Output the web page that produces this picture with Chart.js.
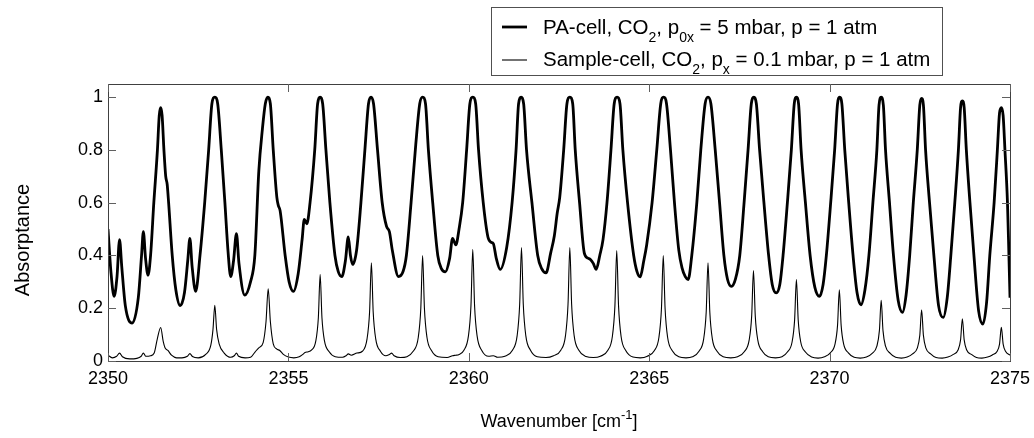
<!DOCTYPE html>
<html>
<head>
<meta charset="utf-8">
<script src="https://cdn.jsdelivr.net/npm/chart.js@4.4.1/dist/chart.umd.min.js"></script>
<style>
  html, body { margin: 0; padding: 0; background: #fff; }
  canvas { display: block; }
</style>
</head>
<body>
<canvas id="chart" width="1034" height="438"></canvas>
<script>
// =============================================================
// DATA
// =============================================================
const xTicks = [2350, 2355, 2360, 2365, 2370, 2375];
const yTicks = [0, 0.2, 0.4, 0.6, 0.8, 1];

const legendPA     = [["PA-cell, CO", ""], ["2", "sub"], [", p", ""], ["0x", "sub"], [" = 5 mbar, p = 1 atm", ""]];
const legendSample = [["Sample-cell, CO", ""], ["2", "sub"], [", p", ""], ["x", "sub"], [" = 0.1 mbar, p = 1 atm", ""]];

// PA-cell, thick line: [wavenumber, absorptance]
const paCell = [
    [2350.00,0.50],[2350.08,0.34],[2350.17,0.245],[2350.25,0.32],[2350.32,0.46],[2350.38,0.36],
    [2350.48,0.21],[2350.67,0.144],[2350.84,0.24],[2350.93,0.40],[2350.98,0.49],[2351.04,0.39],
    [2351.11,0.325],[2351.18,0.40],[2351.27,0.60],[2351.37,0.80],[2351.42,0.93],[2351.46,0.96],
    [2351.50,0.93],[2351.55,0.80],[2351.60,0.70],[2351.64,0.67],[2351.68,0.60],[2351.78,0.40],
    [2351.88,0.27],[2352.00,0.21],[2352.12,0.26],[2352.21,0.38],[2352.27,0.465],[2352.33,0.36],
    [2352.43,0.264],[2352.55,0.40],[2352.68,0.60],[2352.79,0.80],[2352.88,0.975],[2352.96,1.00],
    [2353.04,0.975],[2353.14,0.80],[2353.24,0.60],[2353.33,0.41],[2353.40,0.32],[2353.48,0.38],
    [2353.56,0.483],[2353.63,0.37],[2353.79,0.25],[2353.95,0.30],[2354.07,0.40],[2354.18,0.72],
    [2354.28,0.88],[2354.36,0.975],[2354.43,1.00],[2354.50,0.975],[2354.58,0.80],[2354.68,0.62],
    [2354.72,0.59],[2354.77,0.57],[2354.91,0.40],[2355.02,0.30],[2355.14,0.264],[2355.27,0.33],
    [2355.38,0.46],[2355.44,0.537],[2355.51,0.52],[2355.60,0.60],[2355.73,0.80],[2355.81,0.975],
    [2355.88,1.00],[2355.95,0.975],[2356.04,0.80],[2356.15,0.60],[2356.29,0.40],[2356.38,0.34],
    [2356.48,0.32],[2356.58,0.38],[2356.66,0.47],[2356.72,0.40],[2356.78,0.366],[2356.89,0.42],
    [2357.01,0.60],[2357.12,0.80],[2357.22,0.975],[2357.29,1.00],[2357.36,0.975],[2357.47,0.80],
    [2357.60,0.60],[2357.72,0.51],[2357.80,0.49],[2357.88,0.42],[2358.05,0.32],[2358.18,0.34],
    [2358.27,0.40],[2358.40,0.60],[2358.53,0.82],[2358.64,0.975],[2358.72,1.00],[2358.80,0.975],
    [2358.88,0.80],[2359.00,0.60],[2359.14,0.40],[2359.24,0.35],[2359.35,0.338],[2359.47,0.39],
    [2359.55,0.465],[2359.64,0.44],[2359.73,0.50],[2359.83,0.60],[2359.94,0.80],[2360.03,0.975],
    [2360.11,1.00],[2360.19,0.975],[2360.27,0.80],[2360.40,0.60],[2360.53,0.47],[2360.62,0.45],
    [2360.68,0.445],[2360.76,0.39],[2360.87,0.347],[2361.05,0.43],[2361.20,0.60],[2361.31,0.80],
    [2361.38,0.975],[2361.45,1.00],[2361.52,0.975],[2361.60,0.80],[2361.75,0.60],[2361.91,0.40],
    [2362.02,0.35],[2362.14,0.334],[2362.27,0.41],[2362.37,0.474],[2362.45,0.56],[2362.52,0.62],
    [2362.63,0.80],[2362.72,0.975],[2362.80,1.00],[2362.88,0.975],[2362.95,0.80],[2363.07,0.60],
    [2363.20,0.41],[2363.30,0.39],[2363.37,0.385],[2363.45,0.37],[2363.53,0.347],[2363.63,0.40],
    [2363.72,0.46],[2363.83,0.60],[2363.94,0.80],[2364.03,0.975],[2364.11,1.00],[2364.19,0.975],
    [2364.27,0.80],[2364.40,0.60],[2364.57,0.40],[2364.66,0.34],[2364.75,0.319],[2364.85,0.38],
    [2364.93,0.44],[2365.08,0.60],[2365.21,0.80],[2365.32,0.975],[2365.40,1.00],[2365.48,0.975],
    [2365.59,0.80],[2365.70,0.60],[2365.82,0.42],[2365.91,0.353],[2366.00,0.32],[2366.08,0.309],
    [2366.18,0.40],[2366.32,0.60],[2366.43,0.80],[2366.55,0.975],[2366.63,1.00],[2366.71,0.975],
    [2366.83,0.80],[2366.95,0.60],[2367.07,0.40],[2367.17,0.31],[2367.28,0.283],[2367.39,0.31],
    [2367.51,0.40],[2367.63,0.60],[2367.74,0.80],[2367.83,0.975],[2367.90,1.00],[2367.97,0.975],
    [2368.06,0.80],[2368.18,0.60],[2368.31,0.40],[2368.41,0.29],[2368.52,0.258],[2368.62,0.29],
    [2368.71,0.40],[2368.83,0.60],[2368.94,0.80],[2369.02,0.975],[2369.08,1.00],[2369.14,0.975],
    [2369.21,0.80],[2369.33,0.60],[2369.46,0.40],[2369.59,0.28],[2369.72,0.245],[2369.82,0.29],
    [2369.91,0.40],[2370.03,0.60],[2370.14,0.80],[2370.22,0.975],[2370.28,1.00],[2370.34,0.975],
    [2370.42,0.80],[2370.53,0.60],[2370.65,0.40],[2370.76,0.26],[2370.87,0.213],[2370.98,0.27],
    [2371.09,0.40],[2371.20,0.60],[2371.31,0.80],[2371.37,0.97],[2371.43,1.00],[2371.49,0.97],
    [2371.55,0.80],[2371.66,0.60],[2371.77,0.40],[2371.90,0.23],[2372.02,0.184],[2372.12,0.25],
    [2372.22,0.40],[2372.32,0.60],[2372.43,0.80],[2372.50,0.97],[2372.55,0.995],[2372.60,0.97],
    [2372.66,0.80],[2372.77,0.60],[2372.89,0.40],[2373.02,0.21],[2373.15,0.165],[2373.26,0.24],
    [2373.36,0.40],[2373.47,0.60],[2373.57,0.80],[2373.63,0.96],[2373.68,0.986],[2373.73,0.96],
    [2373.79,0.80],[2373.89,0.60],[2374.00,0.40],[2374.13,0.19],[2374.25,0.14],[2374.35,0.22],
    [2374.44,0.40],[2374.56,0.60],[2374.65,0.80],[2374.71,0.94],[2374.76,0.96],[2374.81,0.93],
    [2374.86,0.80],[2374.93,0.60],[2374.97,0.40],[2375.00,0.24]
];

// Sample-cell, thin line: [wavenumber, absorptance]
const sampleCell = [
    [2350.00,0.022],[2350.12,0.012],[2350.24,0.018],[2350.32,0.030],[2350.40,0.016],[2350.60,0.008],
    [2350.80,0.010],[2350.92,0.018],[2350.98,0.030],[2351.05,0.018],[2351.18,0.020],[2351.28,0.030],
    [2351.37,0.086],[2351.46,0.127],[2351.53,0.074],[2351.58,0.050],[2351.66,0.040],[2351.76,0.022],
    [2351.90,0.012],[2352.05,0.012],[2352.20,0.018],[2352.27,0.028],[2352.34,0.017],[2352.50,0.012],
    [2352.70,0.024],[2352.85,0.060],[2352.91,0.120],[2352.96,0.211],[2353.01,0.120],[2353.08,0.065],
    [2353.22,0.030],[2353.40,0.014],[2353.50,0.020],[2353.56,0.030],[2353.62,0.018],[2353.80,0.012],
    [2353.95,0.014],[2354.08,0.035],[2354.18,0.050],[2354.30,0.070],[2354.38,0.150],[2354.44,0.274],
    [2354.50,0.150],[2354.58,0.065],[2354.68,0.045],[2354.76,0.040],[2354.86,0.025],[2355.00,0.015],
    [2355.15,0.012],[2355.30,0.016],[2355.40,0.025],[2355.46,0.032],[2355.55,0.035],[2355.63,0.040],
    [2355.76,0.076],[2355.83,0.164],[2355.88,0.328],[2355.93,0.164],[2356.00,0.076],[2356.13,0.035],
    [2356.30,0.016],[2356.50,0.014],[2356.60,0.020],[2356.66,0.027],[2356.74,0.022],[2356.90,0.030],
    [2357.05,0.037],[2357.18,0.084],[2357.25,0.186],[2357.30,0.372],[2357.35,0.186],[2357.42,0.084],
    [2357.55,0.037],[2357.70,0.020],[2357.80,0.025],[2357.86,0.030],[2357.93,0.020],[2358.10,0.013],
    [2358.47,0.039],[2358.60,0.090],[2358.67,0.200],[2358.72,0.400],[2358.77,0.200],[2358.84,0.090],
    [2358.97,0.039],[2359.15,0.016],[2359.40,0.013],[2359.55,0.020],[2359.64,0.022],[2359.72,0.024],
    [2359.86,0.040],[2359.99,0.095],[2360.06,0.210],[2360.11,0.423],[2360.16,0.210],[2360.23,0.095],
    [2360.36,0.040],[2360.55,0.018],[2360.68,0.020],[2360.80,0.014],[2361.00,0.018],
    [2361.21,0.041],[2361.34,0.096],[2361.41,0.215],[2361.46,0.430],[2361.51,0.215],[2361.58,0.096],
    [2361.71,0.041],[2361.90,0.016],[2362.14,0.013],[2362.35,0.020],
    [2362.55,0.041],[2362.68,0.096],[2362.75,0.215],[2362.80,0.430],[2362.85,0.215],[2362.92,0.096],
    [2363.05,0.041],[2363.25,0.017],[2363.45,0.013],[2363.65,0.018],
    [2363.85,0.040],[2363.98,0.094],[2364.05,0.210],[2364.10,0.419],[2364.15,0.210],[2364.22,0.094],
    [2364.35,0.040],[2364.55,0.015],[2364.75,0.012],[2364.95,0.018],
    [2365.14,0.039],[2365.27,0.090],[2365.34,0.200],[2365.39,0.400],[2365.44,0.200],[2365.51,0.090],
    [2365.64,0.039],[2365.82,0.016],[2366.02,0.012],[2366.20,0.016],
    [2366.38,0.037],[2366.51,0.084],[2366.58,0.186],[2366.63,0.372],[2366.68,0.186],[2366.75,0.084],
    [2366.88,0.037],[2367.05,0.016],[2367.26,0.012],[2367.45,0.016],
    [2367.64,0.036],[2367.77,0.079],[2367.84,0.170],[2367.89,0.343],[2367.94,0.170],[2368.01,0.079],
    [2368.14,0.036],[2368.30,0.016],[2368.50,0.012],[2368.68,0.016],
    [2368.83,0.034],[2368.96,0.072],[2369.03,0.155],[2369.08,0.309],[2369.13,0.155],[2369.20,0.072],
    [2369.33,0.034],[2369.50,0.015],[2369.68,0.011],[2369.86,0.016],
    [2370.02,0.031],[2370.15,0.064],[2370.22,0.135],[2370.27,0.270],[2370.32,0.135],[2370.39,0.064],
    [2370.52,0.031],[2370.68,0.014],[2370.85,0.011],[2371.02,0.015],
    [2371.18,0.029],[2371.31,0.056],[2371.38,0.115],[2371.43,0.230],[2371.48,0.115],[2371.55,0.056],
    [2371.68,0.029],[2371.83,0.014],[2371.99,0.011],[2372.15,0.015],
    [2372.30,0.027],[2372.43,0.049],[2372.50,0.097],[2372.55,0.194],[2372.60,0.097],[2372.67,0.049],
    [2372.80,0.027],[2372.95,0.013],[2373.12,0.011],[2373.28,0.015],
    [2373.43,0.025],[2373.56,0.042],[2373.63,0.080],[2373.68,0.160],[2373.73,0.080],[2373.80,0.042],
    [2373.93,0.025],[2374.07,0.013],[2374.22,0.011],[2374.38,0.015],
    [2374.51,0.023],[2374.64,0.036],[2374.71,0.064],[2374.76,0.128],[2374.81,0.064],[2374.88,0.036],
    [2375.00,0.022]
];

const FONT = '"Liberation Sans", Arial, Helvetica, sans-serif';

// =============================================================
// FRAME, INWARD TICKS, AXIS TITLES, LEGEND
// =============================================================
function drawRich(ctx, parts, x, y, size) {
    let cx = x;
    parts.forEach(([txt, kind]) => {
        const s = kind ? Math.round(size * 0.7) : size;
        ctx.font = s + 'px ' + FONT;
        const dy = kind === 'sub' ? size * 0.4 : (kind === 'sup' ? -size * 0.42 : 0);
        ctx.fillText(txt, cx, y + dy);
        cx += ctx.measureText(txt).width;
    });
    return cx - x;
}

function richWidth(ctx, parts, size) {
    let w = 0;
    parts.forEach(([txt, kind]) => {
        const s = kind ? Math.round(size * 0.7) : size;
        ctx.font = s + 'px ' + FONT;
        w += ctx.measureText(txt).width;
    });
    return w;
}

const decorations = {
    id: 'decorations',
    afterDraw(chart) {
        const { ctx, chartArea: a, scales: { x, y } } = chart;
        ctx.save();

        // box
        ctx.strokeStyle = '#404040';
        ctx.lineWidth = 1;
        ctx.strokeRect(Math.round(a.left) + 0.5, Math.round(a.top) + 0.5,
                       Math.round(a.right - a.left), Math.round(a.bottom - a.top));

        // inward ticks
        ctx.strokeStyle = '#606060';
        ctx.beginPath();
        xTicks.forEach(v => {
            const px = Math.round(x.getPixelForValue(v)) + 0.5;
            ctx.moveTo(px, a.bottom); ctx.lineTo(px, a.bottom - 8);
            ctx.moveTo(px, a.top);    ctx.lineTo(px, a.top + 8);
        });
        yTicks.forEach(v => {
            const py = Math.round(y.getPixelForValue(v)) + 0.5;
            ctx.moveTo(a.left, py);  ctx.lineTo(a.left + 8, py);
            ctx.moveTo(a.right, py); ctx.lineTo(a.right - 8, py);
        });
        ctx.stroke();

        ctx.fillStyle = '#000';
        ctx.textBaseline = 'alphabetic';

        // x title
        const xt = [["Wavenumber [cm", ""], ["-1", "sup"], ["]", ""]];
        const xw = richWidth(ctx, xt, 18);
        drawRich(ctx, xt, (a.left + a.right) / 2 - xw / 2, 427, 18);

        // y title
        ctx.save();
        ctx.translate(29, 240);
        ctx.rotate(-Math.PI / 2);
        ctx.font = '20px ' + FONT;
        ctx.textAlign = 'center';
        ctx.fillText('Absorptance', 0, 0);
        ctx.restore();

        // legend
        ctx.fillStyle = '#fff';
        ctx.fillRect(491, 7, 451, 68);
        ctx.strokeStyle = '#505050';
        ctx.strokeRect(491.5, 7.5, 451, 68);

        ctx.strokeStyle = '#000';
        ctx.lineWidth = 2.8;
        ctx.beginPath(); ctx.moveTo(502, 27); ctx.lineTo(527, 27); ctx.stroke();
        ctx.lineWidth = 1.1;
        ctx.beginPath(); ctx.moveTo(502, 60); ctx.lineTo(527, 60); ctx.stroke();

        ctx.fillStyle = '#000';
        drawRich(ctx, legendPA, 543, 34, 20.5);
        drawRich(ctx, legendSample, 543, 66, 20.5);

        ctx.restore();
    }
};

// =============================================================
// CHART
// =============================================================
new Chart(document.getElementById('chart'), {
    type: 'line',
    data: {
        datasets: [
            {
                label: 'PA-cell',
                data: paCell.map(([wn, a]) => ({ x: wn, y: a })),
                borderColor: '#000',
                borderWidth: 2.8,
                pointRadius: 0,
                cubicInterpolationMode: 'monotone',
                fill: false
            },
            {
                label: 'Sample-cell',
                data: sampleCell.map(([wn, a]) => ({ x: wn, y: a })),
                borderColor: '#000',
                borderWidth: 1.1,
                pointRadius: 0,
                cubicInterpolationMode: 'monotone',
                fill: false
            }
        ]
    },
    options: {
        responsive: false,
        animation: false,
        devicePixelRatio: 1,
        layout: { padding: { left: 0, top: 84, right: 24, bottom: 0 } },
        plugins: { legend: { display: false }, tooltip: { enabled: false } },
        scales: {
            x: {
                type: 'linear',
                min: 2350, max: 2375,
                grid: { display: false, drawTicks: false },
                border: { display: false },
                afterBuildTicks: s => { s.ticks = xTicks.map(v => ({ value: v })); },
                afterFit: s => { s.height = 77; s.paddingLeft = 0; s.paddingRight = 0; },
                ticks: {
                    color: '#000', font: { family: FONT, size: 18 }, padding: 7, maxRotation: 0,
                    callback: v => String(v)
                }
            },
            y: {
                min: 0, max: 1.05,
                grid: { display: false, drawTicks: false },
                border: { display: false },
                afterBuildTicks: s => { s.ticks = yTicks.map(v => ({ value: v })); },
                afterFit: s => { s.width = 108; s.paddingTop = 0; s.paddingBottom = 0; },
                ticks: {
                    color: '#000', font: { family: FONT, size: 18 }, padding: 5,
                    callback: v => String(+v.toFixed(1))
                }
            }
        }
    },
    plugins: [decorations]
});
</script>
</body>
</html>
